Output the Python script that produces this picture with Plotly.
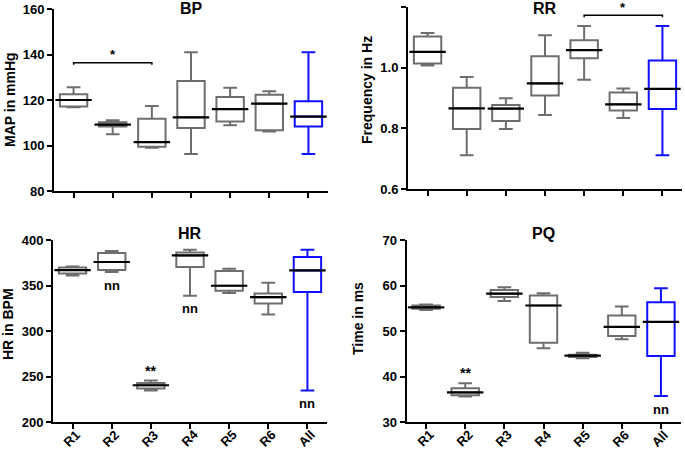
import plotly.graph_objects as go

categories = ["R1", "R2", "R3", "R4", "R5", "R6", "All"]

# BP (MAP in mmHg)
bp_upper = [125.6, 111.1, 117.4, 141.0, 125.4, 123.8, 141.0]
bp_q3 = [122.5, 110.2, 111.8, 128.4, 121.3, 122.3, 119.4]
bp_median = [120.0, 109.2, 101.5, 112.4, 116.0, 118.4, 112.7]
bp_q1 = [117.1, 108.4, 99.5, 107.7, 110.5, 106.7, 108.4]
bp_lower = [116.8, 104.9, 99.0, 96.3, 108.9, 106.1, 96.3]

# RR (Frequency in Hz)
rr_upper = [1.114, 0.969, 0.899, 1.107, 1.137, 0.931, 1.137]
rr_q3 = [1.103, 0.934, 0.877, 1.038, 1.090, 0.918, 1.024]
rr_median = [1.052, 0.866, 0.865, 0.948, 1.058, 0.879, 0.930]
rr_q1 = [1.014, 0.798, 0.824, 0.908, 1.031, 0.859, 0.864]
rr_lower = [1.007, 0.711, 0.798, 0.844, 0.960, 0.834, 0.711]

# HR (HR in BPM)
hr_upper = [371.0, 387.9, 245.5, 389.4, 368.4, 353.0, 389.4]
hr_q3 = [369.9, 385.7, 242.9, 386.4, 365.9, 341.3, 381.3]
hr_median = [367.0, 375.8, 240.4, 383.1, 349.7, 337.2, 366.6]
hr_q1 = [363.3, 367.0, 236.7, 370.3, 344.2, 330.3, 342.8]
hr_lower = [361.1, 364.8, 234.5, 338.7, 341.7, 318.2, 234.5]

# PQ (Time in ms)
pq_upper = [55.8, 38.5, 59.6, 58.3, 45.2, 55.4, 59.4]
pq_q3 = [55.6, 37.4, 59.0, 57.8, 44.8, 53.4, 56.3]
pq_median = [55.2, 36.5, 58.2, 55.6, 44.6, 50.9, 52.0]
pq_q1 = [54.9, 35.9, 57.5, 47.4, 44.3, 48.9, 44.5]
pq_lower = [54.6, 35.6, 56.6, 46.2, 44.0, 48.2, 35.7]

# significance markers
bp_bracket = ("R1", "R3", 136.4, "*")
rr_bracket = ("R5", "All", 1.173, "*")
hr_below_nn = ["R2", "R4", "All"]
hr_above_star = ["R3"]
pq_below_nn = ["All"]
pq_above_star = ["R2"]

FONT = "Liberation Sans, Arial, sans-serif"
GRAY = "#6e6e6e"
BLUE = "#1010ff"

panels = [
    dict(title="BP", ytitle="MAP in mmHg", yrange=[80, 160], dtick=20, fmt="d",
         data=(bp_lower, bp_q1, bp_median, bp_q3, bp_upper),
         xdom=[54 / 685, 328 / 685], ydom=[1 - 191 / 451, 1 - 9 / 451], xlabels=False,
         ytitle_pos=(10, 100), title_y=8.5),
    dict(title="RR", ytitle="Frequency in Hz", yrange=[0.6, 1.2], dtick=0.2, fmt=".1f",
         data=(rr_lower, rr_q1, rr_median, rr_q3, rr_upper),
         xdom=[408 / 685, 682 / 685], ydom=[1 - 189 / 451, 1 - 7 / 451], xlabels=False,
         ytitle_pos=(367, 90), title_y=9),
    dict(title="HR", ytitle="HR in BPM", yrange=[200, 400], dtick=50, fmt="d",
         data=(hr_lower, hr_q1, hr_median, hr_q3, hr_upper),
         xdom=[53 / 685, 327 / 685], ydom=[1 - 422 / 451, 1 - 240 / 451], xlabels=True,
         ytitle_pos=(8, 324), title_y=233.5),
    dict(title="PQ", ytitle="Time in ms", yrange=[30, 70], dtick=10, fmt="d",
         data=(pq_lower, pq_q1, pq_median, pq_q3, pq_upper),
         xdom=[406.5 / 685, 680.5 / 685], ydom=[1 - 422 / 451, 1 - 240 / 451], xlabels=True,
         ytitle_pos=(358, 319), title_y=233),
]

fig = go.Figure()
annotations = []
layout = {}

for i, p in enumerate(panels):
    n = "" if i == 0 else str(i + 1)
    xa, ya = "x" + n, "y" + n
    lo, q1, med, q3, up = p["data"]
    for sl, color in ((slice(0, 6), GRAY), (slice(6, 7), BLUE)):
        fig.add_trace(go.Box(
            x=categories[sl], q1=q1[sl], median=med[sl], q3=q3[sl],
            lowerfence=lo[sl], upperfence=up[sl],
            boxpoints=False, width=0.7, whiskerwidth=0.5,
            line=dict(color=color, width=2), fillcolor="rgba(0,0,0,0)",
            showlegend=False, hoverinfo="skip", xaxis=xa, yaxis=ya))
    # black median lines
    fig.add_trace(go.Scatter(
        x=categories, y=med, mode="markers", xaxis=xa, yaxis=ya,
        marker=dict(symbol="line-ew", size=26, color="black",
                    line=dict(color="black", width=2.2)),
        showlegend=False, hoverinfo="skip"))

    layout["xaxis" + n] = dict(
        domain=p["xdom"], anchor=ya, type="category", categoryorder="array",
        categoryarray=categories, range=[-0.5, 6.5], automargin=False,
        showline=True, linecolor="black", linewidth=2,
        ticks="outside", ticklen=5, tickwidth=2, tickcolor="black",
        showticklabels=False,
        showgrid=False, zeroline=False, fixedrange=True)
    layout["yaxis" + n] = dict(
        domain=p["ydom"], anchor=xa, range=p["yrange"], dtick=p["dtick"],
        tick0=p["yrange"][0], tickformat=p["fmt"], automargin=False,
        showline=True, linecolor="black", linewidth=2,
        ticks="outside", ticklen=5, tickwidth=2, tickcolor="black",
        tickfont=dict(family=FONT, size=13, color="black", weight="bold"),
        showgrid=False, zeroline=False, fixedrange=True)

    # rotated category labels (bottom row)
    if p["xlabels"]:
        for k, c in enumerate(categories):
            annotations.append(dict(
                text=c, xref=xa, x=k, yref="paper", y=p["ydom"][0],
                yshift=-16, xshift=-1, textangle=-45,
                xanchor="center", yanchor="middle", showarrow=False,
                font=dict(family=FONT, size=13, color="black", weight="bold")))

    # panel title
    annotations.append(dict(
        text=p["title"], xref=xa, x=3, yref="paper", y=1 - p["title_y"] / 451,
        yanchor="middle", xanchor="center", showarrow=False,
        font=dict(family=FONT, size=16, color="black", weight="bold")))
    # y-axis title
    annotations.append(dict(
        text=p["ytitle"], xref="paper", x=p["ytitle_pos"][0] / 685,
        yref="paper", y=1 - p["ytitle_pos"][1] / 451, textangle=-90,
        xanchor="center", yanchor="middle", showarrow=False,
        font=dict(family=FONT, size=14, color="black", weight="bold")))

# significance brackets
for (a, b, lvl, txt), n, span in ((bp_bracket, "", 80), (rr_bracket, "2", 0.6)):
    ia, ib = categories.index(a), categories.index(b)
    drop = span * 0.012
    fig.add_trace(go.Scatter(
        x=[a, a, b, b], y=[lvl - drop, lvl, lvl, lvl - drop], mode="lines",
        line=dict(color="black", width=1.5), xaxis="x" + n, yaxis="y" + n,
        showlegend=False, hoverinfo="skip"))
    annotations.append(dict(
        text=txt, xref="x" + n, x=(ia + ib) / 2, yref="y" + n, y=lvl,
        yanchor="middle", yshift=8, showarrow=False,
        font=dict(family=FONT, size=13, color="black", weight="bold")))

def below(cats, lower, n):
    for c in cats:
        k = categories.index(c)
        annotations.append(dict(
            text="nn", xref="x" + n, x=k, yref="y" + n, y=lower[k],
            yanchor="middle", yshift=-13, showarrow=False,
            font=dict(family=FONT, size=13, color="black", weight="bold")))

def above(cats, upper, n):
    for c in cats:
        k = categories.index(c)
        annotations.append(dict(
            text="**", xref="x" + n, x=k, yref="y" + n, y=upper[k],
            yanchor="bottom", yshift=0, showarrow=False,
            font=dict(family=FONT, size=14, color="black", weight="bold")))

below(hr_below_nn, hr_lower, "3")
above(hr_above_star, hr_upper, "3")
below(pq_below_nn, pq_lower, "4")
above(pq_above_star, pq_upper, "4")

fig.update_layout(
    width=685, height=451, margin=dict(l=0, r=0, t=0, b=0),
    paper_bgcolor="white", plot_bgcolor="white", boxmode="overlay",
    font=dict(family=FONT, color="black"), annotations=annotations, **layout)

fig.write_html(
    "out.html",
    config={"displayModeBar": False},
    post_script="document.body.style.margin='0';document.body.style.overflow='hidden';")
